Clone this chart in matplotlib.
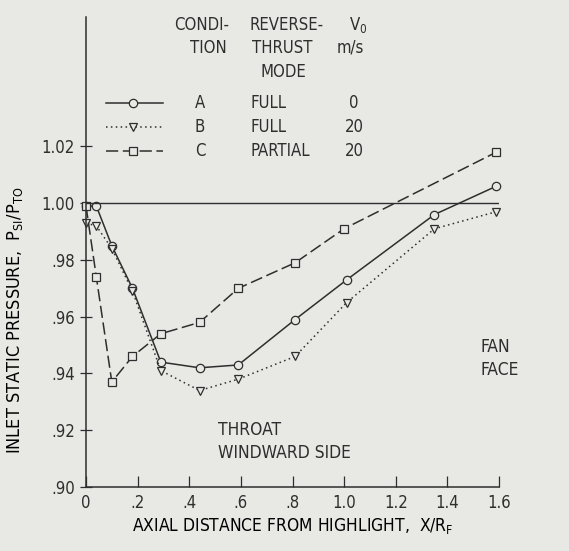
import numpy as np
import matplotlib.pyplot as plt
from matplotlib.lines import Line2D

# data
x_a = [0.0, 0.04, 0.10, 0.18, 0.29, 0.44, 0.59, 0.81, 1.01, 1.35, 1.59]
y_a = [0.999, 0.999, 0.985, 0.970, 0.944, 0.942, 0.943, 0.959, 0.973, 0.996, 1.006]

x_b = [0.0, 0.04, 0.10, 0.18, 0.29, 0.44, 0.59, 0.81, 1.01, 1.35, 1.59]
y_b = [0.993, 0.992, 0.984, 0.969, 0.941, 0.934, 0.938, 0.946, 0.965, 0.991, 0.997]

x_c = [0.0, 0.04, 0.10, 0.18, 0.29, 0.44, 0.59, 0.81, 1.00, 1.59]
y_c = [0.999, 0.974, 0.937, 0.946, 0.954, 0.958, 0.970, 0.979, 0.991, 1.018]

xticks = [0, 0.2, 0.4, 0.6, 0.8, 1.0, 1.2, 1.4, 1.6]
xlabels = ["0", ".2", ".4", ".6", ".8", "1.0", "1.2", "1.4", "1.6"]
yticks = [0.90, 0.92, 0.94, 0.96, 0.98, 1.00, 1.02]
ylabels = [".90", ".92", ".94", ".96", ".98", "1.00", "1.02"]

INK = "#2e2e2e"
BG = "#e8e8e5"
plt.rcParams["font.family"] = ["DejaVu Sans"]
plt.rcParams["font.stretch"] = "condensed"
plt.rcParams["font.size"] = 12
plt.rcParams["text.color"] = INK
plt.rcParams["mathtext.fontset"] = "dejavusans"

W, H = 569, 551
fig = plt.figure(figsize=(W / 100, H / 100), dpi=100, facecolor=BG)
ax = fig.add_axes([86 / W, 1 - 487 / H, 413 / W, 470 / H])
ax.set_facecolor(BG)

styles = {
    "A": dict(ls="-", marker="o"),
    "B": dict(ls=(0, (1, 2.2)), marker="v"),
    "C": dict(ls=(0, (8, 3)), marker="s"),
}
common = dict(color=INK, lw=1.1, ms=6, mfc=BG, mec=INK, mew=0.9, clip_on=False)

ax.plot(x_a, y_a, **styles["A"], **common)
ax.plot(x_b, y_b, **styles["B"], **common)
ax.plot(x_c, y_c, **styles["C"], **common)
ax.plot([0, 1.6], [1.0, 1.0], color=INK, lw=1.0)

ax.set_xlim(0, 1.6)
ax.set_ylim(0.90, 1.0656)
ax.set_xticks(xticks, xlabels)
ax.set_yticks(yticks, ylabels)
ax.tick_params(direction="inout", length=9, width=0.9, color=INK, labelcolor=INK,
               labelsize=12)
ax.tick_params(axis="x", direction="in", length=8, pad=5)
for s in ["top", "right"]:
    ax.spines[s].set_visible(False)
for s in ["left", "bottom"]:
    ax.spines[s].set_color(INK)
    ax.spines[s].set_linewidth(1.1)

ax.set_xlabel(r"AXIAL DISTANCE FROM HIGHLIGHT,  X/R$_\mathrm{F}$", fontsize=12.5,
              labelpad=3)
ax.set_ylabel(r"INLET STATIC PRESSURE,  P$_\mathrm{SI}$/P$_\mathrm{TO}$", fontsize=13)
ax.yaxis.set_label_coords(-0.148, 0.355)

ax.text(0.51, 0.9161, "THROAT\nWINDWARD SIDE", fontsize=12.5, ha="left", va="center",
        linespacing=1.35)
ax.text(1.527, 0.9453, "FAN\nFACE", fontsize=12.5, ha="left", va="center",
        linespacing=1.35, clip_on=False)


def ftext(px, py, s, **kw):
    fig.text(px / W, 1 - py / H, s, ha="center", va="center", fontsize=12, **kw)


# legend table headers
ftext(202, 25, "CONDI-")
ftext(208, 48, "TION")
ftext(287, 25, "REVERSE-")
ftext(282, 48, "THRUST")
ftext(283, 72, "MODE")
ftext(358, 25, r"V$_\mathrm{0}$")
ftext(350, 48, "m/s")

rows = [("A", "FULL", "0", 103), ("B", "FULL", "20", 127), ("C", "PARTIAL", "20", 151)]
for key, mode, v, py in rows:
    yy = 1 - py / H
    fig.add_artist(Line2D([106 / W, 163 / W], [yy, yy], transform=fig.transFigure,
                          color=INK, lw=1.1, ls=styles[key]["ls"]))
    fig.add_artist(Line2D([133 / W], [yy], transform=fig.transFigure,
                          marker=styles[key]["marker"], ms=6, mfc=BG, mec=INK, mew=0.9,
                          ls="none"))
    ftext(200, py, key)
    fig.text(250 / W, yy, mode, ha="left", va="center", fontsize=12)
    ftext(354, py, v)

fig.savefig("out.png", dpi=100, facecolor=BG)
